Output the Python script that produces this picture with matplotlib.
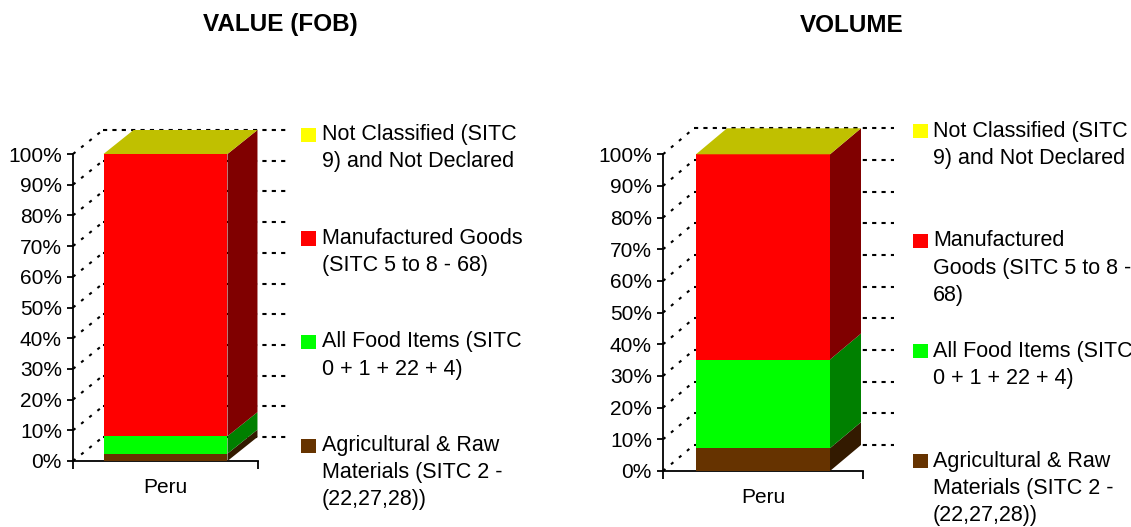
import numpy as np
import matplotlib.pyplot as plt
from matplotlib.patches import Polygon, Rectangle
from matplotlib.ticker import PercentFormatter

plt.rcParams['font.family'] = ['Liberation Sans', 'DejaVu Sans']

W, H = 1131, 527

# data: share of each product group, stacked bottom -> top
categories = ["Peru"]
series = ["Agricultural & Raw Materials", "All Food Items", "Manufactured Goods", "Not Classified"]
value_share = [2.4, 5.7, 91.9, 0.0]
volume_share = [7.2, 28.0, 64.8, 0.0]

# legend text, top -> bottom, wrapped as in the original
value_legend = [
    ["Not Classified (SITC", "9) and Not Declared"],
    ["Manufactured Goods", "(SITC 5 to 8 - 68)"],
    ["All Food Items (SITC", "0 + 1 + 22 + 4)"],
    ["Agricultural & Raw", "Materials (SITC 2 -", "(22,27,28))"],
]
volume_legend = [
    ["Not Classified (SITC", "9) and Not Declared"],
    ["Manufactured", "Goods (SITC 5 to 8 -", "68)"],
    ["All Food Items (SITC", "0 + 1 + 22 + 4)"],
    ["Agricultural & Raw", "Materials (SITC 2 -", "(22,27,28))"],
]

front_colors = ['#663300', '#00FF00', '#FF0000', '#FFFF00']
side_colors = ['#331A00', '#008000', '#800000', '#808000']
top_colors = ['#4C2600', '#00C000', '#C00000', '#C0C000']

fig = plt.figure(figsize=(W / 100, H / 100), dpi=100)


def draw_panel(left_px, zero_px, xscale, yscale, depth_px, shares, title, title_x):
    dx = depth_px[0] / xscale
    dy = depth_px[1] / yscale
    xmax = 0.5 + dx + 0.05
    ymax = 100 + dy + 3
    ax = fig.add_axes([left_px / W, (H - zero_px) / H,
                       (xmax + 0.5) * xscale / W, ymax * yscale / H])
    ax.set_xlim(-0.5, xmax)
    ax.set_ylim(0, ymax)
    ax.patch.set_visible(False)
    for s in ['top', 'right']:
        ax.spines[s].set_visible(False)
    ax.spines['left'].set_bounds(0, 100)
    ax.spines['bottom'].set_bounds(-0.5, 0.5)
    ax.spines['left'].set_linewidth(1.3)
    ax.spines['bottom'].set_linewidth(1.3)

    ticks = np.arange(0, 101, 10)
    ax.set_yticks(ticks)
    ax.yaxis.set_major_formatter(PercentFormatter(decimals=0))
    ax.tick_params(axis='y', length=4.5, width=1.3, pad=3.5, labelsize=15)
    ax.set_xticks([-0.5, 0.5])
    ax.set_xticklabels([])
    ax.tick_params(axis='x', which='major', length=5.5, width=1.3)
    ax.set_xticks([0], minor=True)
    ax.set_xticklabels(categories, minor=True)
    ax.tick_params(axis='x', which='minor', length=0, pad=12, labelsize=15)

    # side wall and back wall gridlines
    for t in ticks:
        ax.plot([-0.5, -0.5 + dx], [t, t + dy], color='black', lw=1.5,
                ls=(0, (1.5, 3.5)), zorder=1, clip_on=False)
        ax.plot([-0.5 + dx, 0.5 + dx], [t + dy, t + dy], color='black', lw=1.5,
                ls=(0, (2, 2.5)), zorder=1, clip_on=False)

    bar_w = 0.67
    x0, x1 = -bar_w / 2, bar_w / 2
    bottoms = np.concatenate([[0], np.cumsum(shares)[:-1]])
    ax.bar([0] * len(shares), shares, bottom=bottoms, width=bar_w,
           color=front_colors, zorder=3, linewidth=0)
    for b, h, c in zip(bottoms, shares, side_colors):
        ax.add_patch(Polygon([(x1, b), (x1 + dx, b + dy), (x1 + dx, b + h + dy), (x1, b + h)],
                             closed=True, facecolor=c, edgecolor='none', zorder=3, clip_on=False))
    top = bottoms[-1] + shares[-1]
    ax.add_patch(Polygon([(x0, top), (x0 + dx, top + dy), (x1 + dx, top + dy), (x1, top)],
                         closed=True, facecolor=top_colors[-1], edgecolor='none', zorder=3,
                         clip_on=False))

    fig.text(title_x / W, 1 - 25 / H, title, ha='center', va='center',
             fontsize=17.5, fontweight='bold')
    return ax


def draw_legend(entries, sw_x, text_x, y0, step, line_h):
    colors = front_colors[::-1]
    for k, (lines, c) in enumerate(zip(entries, colors)):
        yc = y0 + k * step
        fig.patches.append(Rectangle((sw_x / W, 1 - (yc + 7) / H), 15 / W, 14 / H,
                                     transform=fig.transFigure, facecolor=c,
                                     edgecolor='none'))
        for j, line in enumerate(lines):
            fig.text(text_x / W, 1 - (yc + j * line_h) / H, line, ha='left',
                     va='center', fontsize=15.5)


draw_panel(73, 461, 185, 3.07, (30, 24), value_share, "VALUE (FOB)", 280)
draw_panel(663, 471, 200, 3.167, (31, 26), volume_share, "VOLUME", 852)
draw_legend(value_legend, 301, 322, 135, 103.5, 27)
draw_legend(volume_legend, 913, 933, 131, 110, 27.5)

fig.savefig('out.png', dpi=100)
